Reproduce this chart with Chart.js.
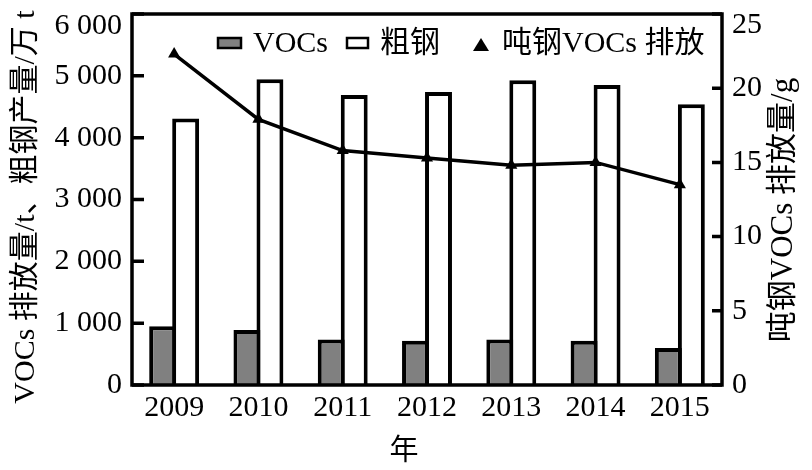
<!DOCTYPE html>
<html>
<head>
<meta charset="utf-8">
<script src="https://cdn.jsdelivr.net/npm/chart.js@4.4.0/dist/chart.umd.min.js"></script>
<style>
  html, body { margin: 0; padding: 0; background: #fff; }
  #wrap { width: 812px; height: 470px; }
</style>
</head>
<body>
<div id="wrap"><canvas id="chart" width="812" height="470"></canvas></div>
<script>
// data
const years = ['2009', '2010', '2011', '2012', '2013', '2014', '2015'];
const vocsEmission = [950, 890, 735, 715, 735, 715, 600];        // t
const crudeSteel = [4310, 4945, 4690, 4740, 4930, 4850, 4540];   // 万 t
const vocsPerTon = [22.3, 17.9, 15.8, 15.3, 14.8, 15.0, 13.5];   // g
const leftTicks = [0, 1000, 2000, 3000, 4000, 5000, 6000];
const rightTicks = [0, 5, 10, 15, 20, 25];
const seriesNames = ['VOCs', '粗钢', '吨钢VOCs 排放'];
const leftTitle = 'VOCs 排放量/t、粗钢产量/万 t';
const rightTitle = '吨钢VOCs 排放量/g';
const xTitle = '年';

const FONT = '"Liberation Serif", "Noto Sans CJK SC", serif';

function fmtThousands(v) {
    if (v < 1000) return String(v);
    return Math.floor(v / 1000) + ' ' + String(v % 1000).padStart(3, '0');
}

function noPad(scale) {
    scale.paddingTop = 0;
    scale.paddingBottom = 0;
    scale.paddingLeft = 0;
    scale.paddingRight = 0;
}

// frame, inward ticks, top tick labels, legend and axis titles
const framePlugin = {
    id: 'frame',
    afterDatasetsDraw(chart) {
        const ctx = chart.ctx;
        const a = chart.chartArea;
        const y = chart.scales.y;
        const y1 = chart.scales.y1;
        ctx.save();
        ctx.strokeStyle = '#000';
        ctx.lineWidth = 3.5;
        ctx.beginPath();
        y.ticks.forEach(t => {
            const py = y.getPixelForValue(t.value);
            ctx.moveTo(a.left, py);
            ctx.lineTo(a.left + 12, py);
        });
        y1.ticks.forEach(t => {
            const py = y1.getPixelForValue(t.value);
            ctx.moveTo(a.right, py);
            ctx.lineTo(a.right - 10, py);
        });
        ctx.stroke();
        ctx.strokeRect(a.left, a.top, a.right - a.left, a.bottom - a.top);

        // top tick labels sit a little below the frame edge
        ctx.font = '30px ' + FONT;
        ctx.fillStyle = '#000';
        ctx.textBaseline = 'middle';
        ctx.textAlign = 'right';
        ctx.fillText(fmtThousands(leftTicks[leftTicks.length - 1]), a.left - 10, a.top + 12);
        ctx.textAlign = 'left';
        ctx.fillText(String(rightTicks[rightTicks.length - 1]), a.right + 10, a.top + 11);

        // legend
        ctx.lineWidth = 2.5;
        ctx.fillStyle = '#808080';
        ctx.fillRect(218, 38, 23, 10);
        ctx.strokeRect(218, 38, 23, 10);
        ctx.fillStyle = '#fff';
        ctx.fillRect(347, 38, 21, 10);
        ctx.strokeRect(347, 38, 21, 10);
        ctx.fillStyle = '#000';
        ctx.beginPath();
        ctx.moveTo(481, 38);
        ctx.lineTo(489, 51);
        ctx.lineTo(473, 51);
        ctx.closePath();
        ctx.fill();
        ctx.fillText(seriesNames[0], 253, 44);
        ctx.fillText(seriesNames[1], 380, 44);
        ctx.fillText(seriesNames[2], 502, 44);

        // axis titles
        ctx.textAlign = 'center';
        ctx.font = '29px ' + FONT;
        ctx.fillText(xTitle, 404, 452);
        ctx.font = '30px ' + FONT;
        ctx.save();
        ctx.translate(26, 207);
        ctx.rotate(-Math.PI / 2);
        ctx.fillText(leftTitle, 0, 0);
        ctx.restore();
        ctx.font = '31px ' + FONT;
        ctx.save();
        ctx.translate(784, 210);
        ctx.rotate(-Math.PI / 2);
        ctx.fillText(rightTitle, 0, 0);
        ctx.restore();
        ctx.restore();
    }
};

new Chart(document.getElementById('chart'), {
    type: 'bar',
    data: {
        labels: years,
        datasets: [{
            type: 'line',
            label: seriesNames[2],
            data: vocsPerTon,
            yAxisID: 'y1',
            borderColor: '#000',
            borderWidth: 3.5,
            tension: 0,
            pointStyle: 'triangle',
            pointRadius: 7,
            pointBackgroundColor: '#000',
            pointBorderColor: '#000',
            pointBorderWidth: 0,
            order: 0
        }, {
            label: seriesNames[0],
            data: vocsEmission,
            yAxisID: 'y',
            backgroundColor: '#808080',
            borderColor: '#000',
            borderWidth: 4,
            borderSkipped: 'start',
            order: 1
        }, {
            label: seriesNames[1],
            data: crudeSteel,
            yAxisID: 'y',
            backgroundColor: '#fff',
            borderColor: '#000',
            borderWidth: 4,
            borderSkipped: 'start',
            order: 2
        }]
    },
    options: {
        responsive: false,
        devicePixelRatio: 1,
        animation: false,
        categoryPercentage: 0.546,
        barPercentage: 1.17,
        layout: { padding: { top: 14, left: 0, right: 0, bottom: 0 } },
        plugins: {
            legend: { display: false },
            tooltip: { enabled: false }
        },
        scales: {
            x: {
                grid: { display: false, drawTicks: false },
                border: { display: false },
                ticks: {
                    color: '#000',
                    font: { family: FONT, size: 30, lineHeight: 1 },
                    padding: 8,
                    maxRotation: 0
                },
                afterFit(scale) { scale.height = 85; noPad(scale); }
            },
            y: {
                position: 'left',
                min: 0,
                max: 6000,
                grid: { display: false, drawTicks: false },
                border: { display: false },
                afterBuildTicks(scale) { scale.ticks = leftTicks.map(v => ({ value: v })); },
                ticks: {
                    color: '#000',
                    font: { family: FONT, size: 30, lineHeight: 1 },
                    padding: 10,
                    callback: v => (v === leftTicks[leftTicks.length - 1] ? '' : fmtThousands(v))
                },
                afterFit(scale) { scale.width = 132; noPad(scale); }
            },
            y1: {
                position: 'right',
                min: 0,
                max: 25,
                grid: { display: false, drawTicks: false },
                border: { display: false },
                afterBuildTicks(scale) { scale.ticks = rightTicks.map(v => ({ value: v })); },
                ticks: {
                    color: '#000',
                    font: { family: FONT, size: 30, lineHeight: 1 },
                    padding: 10,
                    callback: v => (v === rightTicks[rightTicks.length - 1] ? '' : String(v))
                },
                afterFit(scale) { scale.width = 90; noPad(scale); }
            }
        }
    },
    plugins: [framePlugin]
});
</script>
</body>
</html>
